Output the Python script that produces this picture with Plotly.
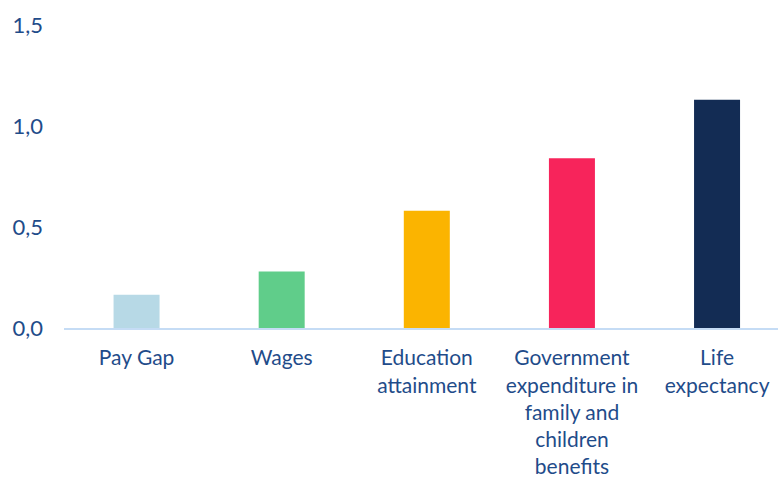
import plotly.graph_objects as go

categories = ["Pay Gap", "Wages", "Education<br>attainment",
              "Government<br>expenditure in<br>family and<br>children<br>benefits",
              "Life<br>expectancy"]
values = [0.165, 0.28, 0.58, 0.84, 1.13]
colors = ["#B7D9E6", "#60CD8A", "#FBB400", "#F7245B", "#132C54"]
y_ticks = [0.0, 0.5, 1.0, 1.5]

font_family = "Lato, Open Sans, sans-serif"
text_color = "#1F4C8A"

fig = go.Figure(go.Bar(x=list(range(len(categories))), y=values,
                       marker=dict(color=colors, line=dict(width=0)),
                       width=0.317))

fig.update_layout(
    width=778, height=485,
    margin=dict(l=64, r=0, t=25, b=157),
    paper_bgcolor="white", plot_bgcolor="white",
    separators=", ",
    showlegend=False,
    font=dict(family=font_family, color=text_color, size=22),
)
fig.update_xaxes(
    tickmode="array", tickvals=list(range(len(categories))), ticktext=categories,
    range=[-0.5, 4.42], showgrid=False, zeroline=False,
    showline=True, linecolor="#C5DCF5", linewidth=2,
    ticks="", ticklabelstandoff=10, tickangle=0, automargin=False,
    tickfont=dict(size=21, color=text_color, family=font_family),
)
fig.update_yaxes(
    range=[0, 1.5], tickvals=y_ticks, tickformat=".1f",
    showgrid=False, zeroline=False, showline=False, ticks="",
    ticklabelstandoff=20, automargin=False,
    tickfont=dict(size=22, color=text_color, family=font_family),
)

fig.write_html("out.html")
